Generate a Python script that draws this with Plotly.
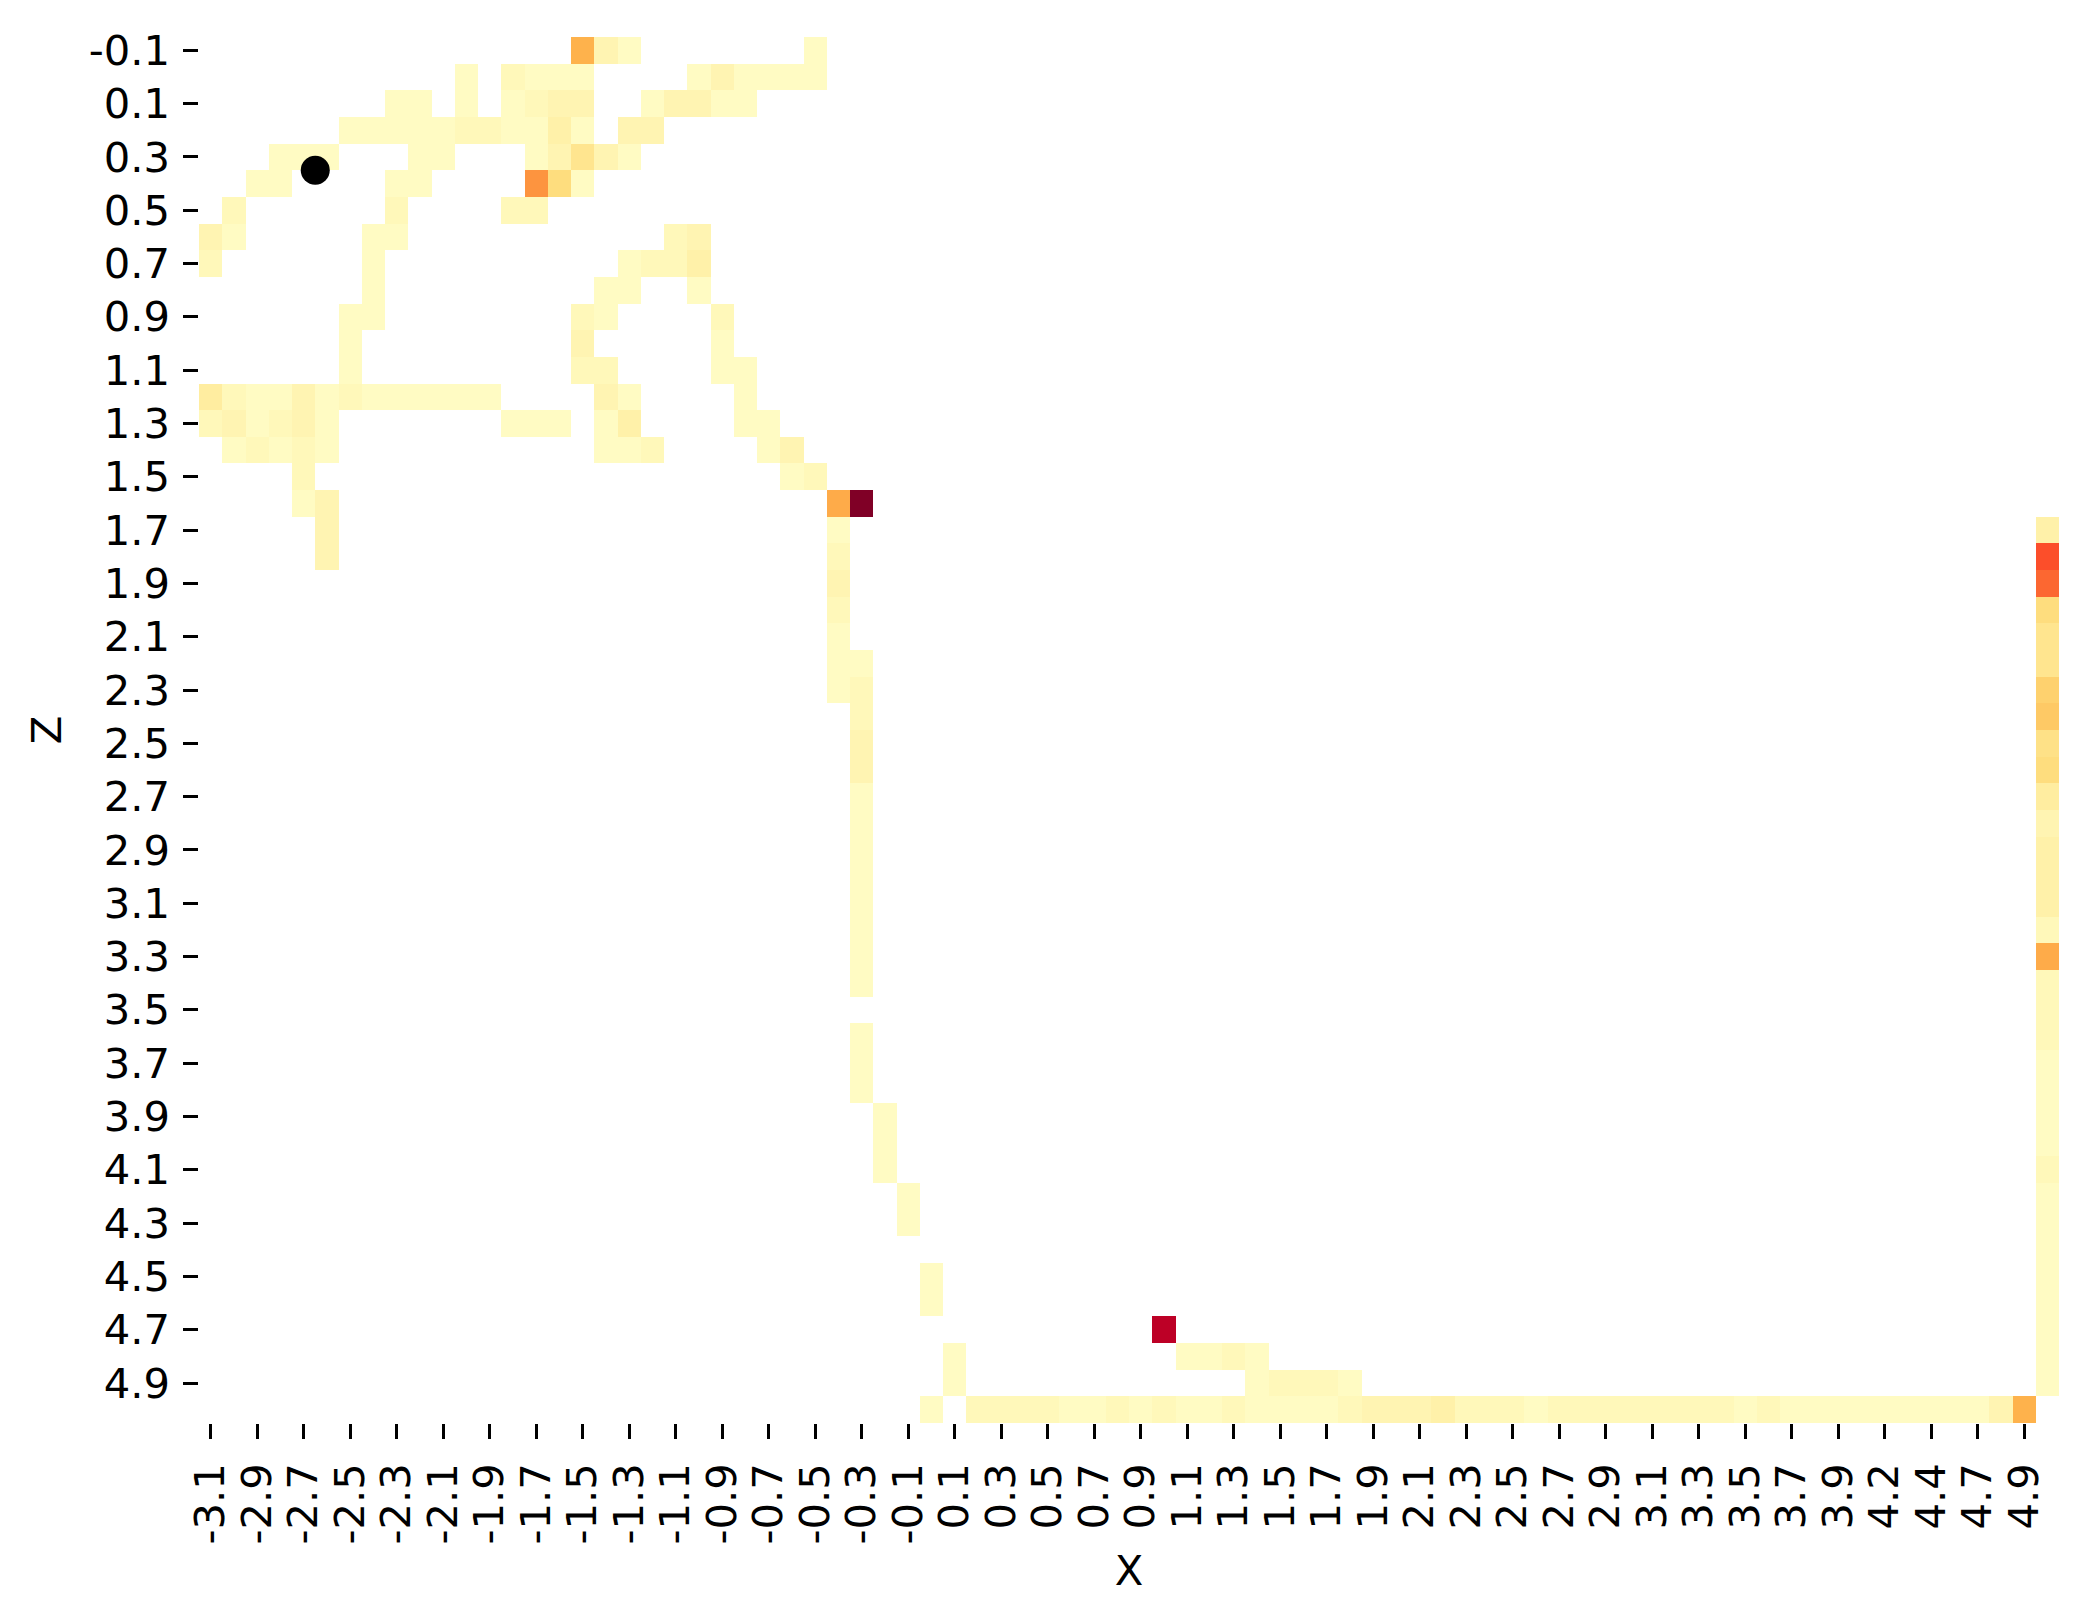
import plotly.graph_objects as go

# ---- axis categories (tick labels) ----
x_labels = ["-3.1","-3.0","-2.9","-2.8","-2.7","-2.6","-2.5","-2.4","-2.3","-2.2",
            "-2.1","-2.0","-1.9","-1.8","-1.7","-1.6","-1.5","-1.4","-1.3","-1.2",
            "-1.1","-1.0","-0.9","-0.8","-0.7","-0.6","-0.5","-0.4","-0.3","-0.2",
            "-0.1","0.0","0.1","0.2","0.3","0.4","0.5","0.6","0.7","0.8",
            "0.9","1.0","1.1","1.2","1.3","1.4","1.5","1.6","1.7","1.8",
            "1.9","2.0","2.1","2.2","2.3","2.4","2.5","2.6","2.7","2.8",
            "2.9","3.0","3.1","3.2","3.3","3.4","3.5","3.6","3.7","3.8",
            "3.9","4.1","4.2","4.3","4.4","4.6","4.7","4.8","4.9","5.0"]
z_labels = ["-0.1","0.0","0.1","0.2","0.3","0.4","0.5","0.6","0.7","0.8",
            "0.9","1.0","1.1","1.2","1.3","1.4","1.5","1.6","1.7","1.8",
            "1.9","2.0","2.1","2.2","2.3","2.4","2.5","2.6","2.7","2.8",
            "2.9","3.0","3.1","3.2","3.3","3.4","3.5","3.6","3.7","3.8",
            "3.9","4.0","4.1","4.2","4.3","4.4","4.5","4.6","4.7","4.8",
            "4.9","5.0"]

# ---- visit counts: row index -> {column index: count} ----
visits = {
    0: {16: 15, 17: 3, 18: 1, 26: 1},
    1: {11: 1, 13: 2, 14: 1, 15: 1, 16: 1, 21: 1, 22: 3, 23: 1, 24: 1, 25: 1, 26: 1},
    2: {8: 1, 9: 1, 11: 1, 13: 1, 14: 2, 15: 3, 16: 3, 19: 1, 20: 3, 21: 3, 22: 1, 23: 1},
    3: {6: 1, 7: 1, 8: 1, 9: 1, 10: 1, 11: 2, 12: 2, 13: 1, 14: 1, 15: 4, 16: 1, 18: 3, 19: 3},
    4: {3: 1, 4: 1, 5: 1, 9: 1, 10: 1, 14: 1, 15: 3, 16: 7, 17: 3, 18: 1},
    5: {2: 1, 3: 1, 8: 1, 9: 1, 14: 19, 15: 9, 16: 1},
    6: {1: 2, 8: 2, 13: 2, 14: 2},
    7: {0: 3, 1: 1, 7: 1, 8: 1, 20: 2, 21: 3},
    8: {0: 2, 7: 1, 18: 1, 19: 2, 20: 2, 21: 4},
    9: {7: 1, 17: 1, 18: 1, 21: 1},
    10: {6: 1, 7: 1, 16: 2, 17: 1, 22: 2},
    11: {6: 1, 16: 3, 22: 1},
    12: {6: 1, 16: 2, 17: 2, 22: 1, 23: 1},
    13: {0: 5, 1: 2, 2: 1, 3: 1, 4: 3, 5: 1, 6: 2, 7: 1, 8: 1, 9: 1, 10: 1, 11: 1, 12: 1,
         17: 3, 18: 1, 23: 1},
    14: {0: 2, 1: 3, 2: 1, 3: 2, 4: 3, 5: 1, 13: 1, 14: 1, 15: 1, 17: 1, 18: 4, 23: 1, 24: 1},
    15: {1: 1, 2: 2, 3: 1, 4: 2, 5: 1, 17: 1, 18: 1, 19: 2, 24: 1, 25: 3},
    16: {4: 2, 25: 1, 26: 2},
    17: {4: 1, 5: 3, 27: 16, 28: 40},
    18: {5: 3, 27: 1, 79: 4},
    19: {5: 3, 27: 2, 79: 25},
    20: {27: 3, 79: 23},
    21: {27: 2, 79: 9},
    22: {27: 1, 79: 7},
    23: {27: 1, 28: 1, 79: 7},
    24: {27: 1, 28: 2, 79: 11},
    25: {28: 2, 79: 12},
    26: {28: 3, 79: 8},
    27: {28: 3, 79: 9},
    28: {28: 1, 79: 5},
    29: {28: 1, 79: 3},
    30: {28: 1, 79: 4},
    31: {28: 1, 79: 4},
    32: {28: 1, 79: 4},
    33: {28: 1, 79: 2},
    34: {28: 1, 79: 16},
    35: {28: 1, 79: 2},
    36: {79: 2},
    37: {28: 1, 79: 2},
    38: {28: 1, 79: 1},
    39: {28: 1, 79: 1},
    40: {29: 1, 79: 1},
    41: {29: 1, 79: 1},
    42: {29: 1, 79: 2},
    43: {30: 1, 79: 1},
    44: {30: 1, 79: 1},
    45: {79: 1},
    46: {31: 1, 79: 1},
    47: {31: 1, 79: 1},
    48: {41: 35, 79: 1},
    49: {32: 1, 42: 1, 43: 1, 44: 2, 45: 1, 79: 1},
    50: {32: 1, 45: 1, 46: 2, 47: 2, 48: 2, 49: 1, 79: 1},
    51: {31: 1, 33: 2, 34: 2, 35: 2, 36: 2, 37: 1, 38: 1, 39: 2, 40: 1, 41: 2, 42: 1,
         43: 1, 44: 2, 45: 1, 46: 1, 47: 1, 48: 1, 49: 2, 50: 3, 51: 3, 52: 3, 53: 4,
         54: 2, 55: 2, 56: 2, 57: 1, 58: 2, 59: 2, 60: 2, 61: 2, 62: 2, 63: 2, 64: 2,
         65: 2, 66: 1, 67: 2, 68: 1, 69: 1, 70: 1, 71: 1, 72: 1, 73: 1, 74: 1, 75: 1,
         76: 1, 77: 3, 78: 15},
}

# start marker (in cell-index coordinates: between columns 4/5 and rows 4/5)
start_x_idx = [4.5]
start_z_idx = [4.5]

count_min = 0
count_max = 40

# ---- build grid ----
nx, nz = len(x_labels), len(z_labels)
grid = [[None] * nx for _ in range(nz)]
for r, cols in visits.items():
    for c, v in cols.items():
        grid[r][c] = v

ylorrd = [[0.0, "#ffffcc"], [0.125, "#ffeda0"], [0.25, "#fed976"], [0.375, "#feb24c"],
          [0.5, "#fd8d3c"], [0.625, "#fc4e2a"], [0.75, "#e31a1c"], [0.875, "#bd0026"],
          [1.0, "#800026"]]

fig = go.Figure()
fig.add_trace(go.Heatmap(
    z=grid, x=list(range(nx)), y=list(range(nz)),
    colorscale=ylorrd, zmin=count_min, zmax=count_max,
    showscale=False, hoverongaps=False, xgap=0, ygap=0,
))
fig.add_trace(go.Scatter(
    x=start_x_idx, y=start_z_idx, mode="markers",
    marker=dict(color="black", size=29, line=dict(width=0)),
    showlegend=False,
))

FONT = dict(family="DejaVu Sans", size=41.7, color="black")

fig.update_layout(
    width=2089, height=1622,
    margin=dict(l=199, r=30, t=37, b=199, autoexpand=False),
    paper_bgcolor="white", plot_bgcolor="white",
    font=FONT, showlegend=False,
    xaxis=dict(
        range=[-0.5, nx - 0.5],
        tickmode="array", tickvals=list(range(0, nx, 2)),
        ticktext=[x_labels[i] for i in range(0, nx, 2)],
        tickangle=-90, ticks="outside", ticklen=14.6, tickwidth=3.3, tickcolor="black",
        ticklabelstandoff=8,
        showgrid=False, zeroline=False, showline=False,
        title=dict(text="X", font=FONT, standoff=12),
    ),
    yaxis=dict(
        range=[nz - 0.5, -0.5],
        tickmode="array", tickvals=list(range(0, nz, 2)),
        ticktext=[z_labels[i] for i in range(0, nz, 2)],
        ticks="outside", ticklen=14.6, tickwidth=3.3, tickcolor="black",
        ticklabelstandoff=5,
        showgrid=False, zeroline=False, showline=False,
        title=dict(text="Z", font=FONT, standoff=14),
    ),
)

fig.write_html("out.html")
